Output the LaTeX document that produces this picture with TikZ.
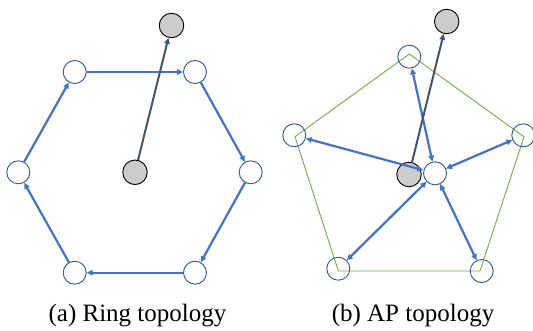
\documentclass[tikz,border=0pt]{standalone}
\usepackage{fontspec}
\setmainfont{Liberation Serif}
\usepackage{tikz}
\usetikzlibrary{arrows.meta, positioning}

\definecolor{linkblue}{HTML}{4472C4}
\definecolor{peerblue}{HTML}{2F5597}
\definecolor{uplink}{HTML}{44546A}
\definecolor{apgreen}{HTML}{70AD47}
\definecolor{srvgrey}{HTML}{CCCCCC}

\begin{document}
\begin{tikzpicture}[x=1pt, y=-1pt,
    peer node/.style = {
        circle,
        draw=peerblue,
        line width=0.9pt,
        minimum size=23pt,
        inner sep=0pt
    },
    server node/.style = {
        circle,
        draw=black,
        line width=0.9pt,
        fill=srvgrey,
        minimum size=24.5pt,
        inner sep=0pt
    },
    ring ptr/.style = {-{Triangle[length=6pt, width=5.5pt]}, line width=2.2pt, linkblue},
    ap ptr/.style = {{Triangle[length=6pt, width=5.5pt]}-{Triangle[length=6pt, width=5.5pt]}, line width=2.2pt, linkblue},
    up ptr/.style = {-{Triangle[length=6pt, width=5.5pt]}, line width=2pt, uplink},
    caption/.style = {font=\fontsize{25}{30}\selectfont, anchor=base, inner sep=0pt}
]
\useasboundingbox (0,0) rectangle (533,331);

% (a) ring
\node [server node] (ringsrv) at (171.5,25.5) {};
\node [server node] (ringc) at (135,172.3) {};
\node [peer node] (r1) at (74.7,72) {};
\node [peer node] (r2) at (195,72) {};
\node [peer node] (r3) at (250.7,172.3) {};
\node [peer node] (r4) at (195,272.7) {};
\node [peer node] (r5) at (74.7,272.7) {};
\node [peer node] (r6) at (18.3,172.3) {};

\draw[ring ptr] (r1) -- (r2);
\draw[ring ptr] (r2) -- (r3);
\draw[ring ptr] (r3) -- (r4);
\draw[ring ptr] (r4) -- (r5);
\draw[ring ptr] (r5) -- (r6);
\draw[ring ptr] (r6) -- (r1);
\draw[up ptr] (ringc) -- (ringsrv);

% (b) AP
\draw[apgreen, line width=0.9pt] (409.3,54) -- (524,136.7) -- (480,271)
    -- (338.3,271) -- (295,136.7) -- cycle;

\node [server node] (apsrv) at (446.7,21.5) {};
\node [server node] (apc) at (409,174.5) {};
\node [peer node] (hub) at (435,173.3) {};
\node [peer node] (p1) at (409.3,56.7) {};
\node [peer node] (p2) at (523.3,135.3) {};
\node [peer node] (p3) at (481.7,271) {};
\node [peer node] (p4) at (338.3,268.7) {};
\node [peer node] (p5) at (294.3,135.3) {};

\draw[ap ptr] (p1) -- (hub);
\draw[ap ptr] (p2) -- (hub);
\draw[ap ptr] (p3) -- (hub);
\draw[ap ptr] (p4) -- (hub);
\draw[ap ptr] (p5) -- (hub);
\draw[up ptr] (apc) -- (apsrv);

\node [caption] (capa) at (137.5,321.5) {(a) Ring topology};
\node [caption] (capb) at (413,321.5) {(b) AP topology};

\end{tikzpicture}
\end{document}
